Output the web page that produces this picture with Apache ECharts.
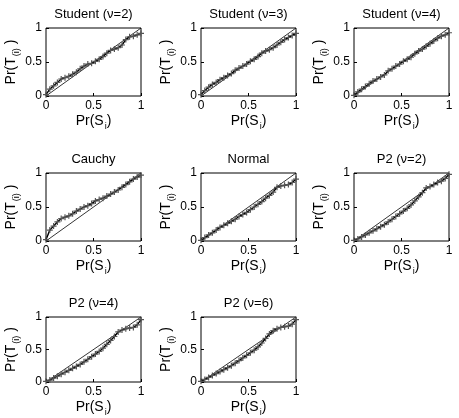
<!DOCTYPE html>
<html>
<head>
<meta charset="utf-8">
<script src="https://cdn.jsdelivr.net/npm/echarts@6/dist/echarts.min.js"></script>
<style>
  html, body { margin: 0; padding: 0; background: #fff; }
  #chart { width: 459px; height: 418px; }
</style>
</head>
<body>
<div id="chart"></div>
<script>
  // panel titles
  const titles = ['Student (ν=2)', 'Student (ν=3)', 'Student (ν=4)', 'Cauchy', 'Normal', 'P2 (ν=2)', 'P2 (ν=4)', 'P2 (ν=6)']

  // Pr(S_i) sample points shared by every panel
  const probS = [0, 0.04, 0.08, 0.12, 0.16, 0.20, 0.24, 0.28, 0.32, 0.36, 0.40, 0.44, 0.48,
    0.52, 0.56, 0.60, 0.64, 0.68, 0.72, 0.76, 0.80, 0.84, 0.88, 0.92, 0.96, 1.00]

  // Pr(T_(i))
  const studentNu2 = [0.02, 0.10, 0.15, 0.20, 0.25, 0.27, 0.29, 0.32, 0.35, 0.40, 0.44, 0.47, 0.48,
    0.51, 0.54, 0.58, 0.63, 0.67, 0.69, 0.71, 0.75, 0.83, 0.87, 0.88, 0.90, 0.92]
  const studentNu3 = [0.02, 0.08, 0.13, 0.17, 0.20, 0.24, 0.27, 0.30, 0.33, 0.38, 0.41, 0.44, 0.47,
    0.51, 0.54, 0.58, 0.63, 0.66, 0.68, 0.71, 0.75, 0.79, 0.83, 0.86, 0.89, 0.92]
  const studentNu4 = [0.01, 0.06, 0.10, 0.14, 0.18, 0.22, 0.25, 0.28, 0.31, 0.37, 0.40, 0.44, 0.47,
    0.51, 0.54, 0.57, 0.62, 0.66, 0.69, 0.73, 0.77, 0.81, 0.85, 0.88, 0.90, 0.93]
  const cauchy = [0.02, 0.16, 0.22, 0.28, 0.33, 0.35, 0.37, 0.40, 0.44, 0.47, 0.50, 0.52, 0.55,
    0.59, 0.61, 0.63, 0.66, 0.69, 0.72, 0.75, 0.79, 0.83, 0.87, 0.91, 0.94, 0.97]
  const normal = [0.01, 0.05, 0.09, 0.12, 0.16, 0.20, 0.23, 0.26, 0.29, 0.32, 0.36, 0.39, 0.42,
    0.46, 0.50, 0.54, 0.58, 0.63, 0.67, 0.72, 0.79, 0.81, 0.82, 0.83, 0.86, 0.91]
  const p2Nu2 = [0.01, 0.03, 0.06, 0.09, 0.12, 0.15, 0.18, 0.21, 0.24, 0.28, 0.32, 0.36, 0.40,
    0.44, 0.48, 0.53, 0.59, 0.65, 0.71, 0.78, 0.80, 0.83, 0.86, 0.88, 0.92, 0.98]
  const p2Nu4 = [0.01, 0.03, 0.06, 0.09, 0.12, 0.15, 0.18, 0.21, 0.24, 0.27, 0.31, 0.35, 0.39,
    0.43, 0.47, 0.52, 0.58, 0.64, 0.70, 0.77, 0.80, 0.82, 0.83, 0.84, 0.88, 0.96]
  const p2Nu6 = [0.01, 0.04, 0.07, 0.10, 0.13, 0.16, 0.19, 0.22, 0.25, 0.29, 0.33, 0.37, 0.41,
    0.45, 0.49, 0.54, 0.60, 0.67, 0.74, 0.79, 0.82, 0.84, 0.85, 0.86, 0.89, 0.96]

  const panels = [studentNu2, studentNu3, studentNu4, cauchy, normal, p2Nu2, p2Nu4, p2Nu6]

  // layout of the 3x3 grid (last cell empty)
  const colLeft = [46, 201, 354]
  const rowTop = [28, 173, 317]
  const boxW = 95
  const boxH = 68
  const font = 'Liberation Sans, Arial, sans-serif'
  const plus = 'path://M4,0h2v4h4v2h-4v4h-2v-4h-4v-2h4z'

  let grid = [], xAxis = [], yAxis = [], series = [], title = []
  panels.forEach((ys, k) => {
    const left = colLeft[k % 3]
    const top = rowTop[Math.floor(k / 3)]
    grid.push({ left: left, top: top, width: boxW, height: boxH, show: true, borderColor: '#000', borderWidth: 1 })
    title.push({
      text: titles[k], left: left + boxW / 2, top: top - 20, textAlign: 'center', padding: 0,
      textStyle: { fontFamily: font, fontSize: 13, fontWeight: 'normal', color: '#000' }
    })
    const axisCommon = {
      gridIndex: k, type: 'value', min: 0, max: 1, interval: 0.5,
      axisLine: { show: false },
      axisTick: { show: true, inside: true, length: 3, lineStyle: { color: '#000' } },
      splitLine: { show: false },
      axisLabel: { fontFamily: font, fontSize: 12, color: '#000', margin: 4 },
      nameLocation: 'middle'
    }
    xAxis.push(Object.assign({}, axisCommon, {
      name: '{a|Pr(S}{s|i}{a|)}', nameGap: 16,
      nameTextStyle: {
        rich: {
          a: { fontFamily: font, fontSize: 14, color: '#000' },
          s: { fontFamily: font, fontSize: 9, color: '#000', padding: [10, 0, 0, 1] }
        }
      }
    }))
    yAxis.push(Object.assign({}, axisCommon, {
      name: '{a|Pr(T}{s|(i)}{a| )}', nameGap: 25,
      nameTextStyle: {
        rich: {
          a: { fontFamily: font, fontSize: 14, color: '#000' },
          s: { fontFamily: font, fontSize: 9, color: '#000', padding: [10, 0, 0, 1] }
        }
      }
    }))
    series.push({
      type: 'line', xAxisIndex: k, yAxisIndex: k, data: [[0, 0], [1, 1]],
      symbol: 'none', silent: true, lineStyle: { color: '#000', width: 0.8 }
    })
    series.push({
      type: 'line', xAxisIndex: k, yAxisIndex: k,
      data: probS.map((x, i) => [x, ys[i]]),
      symbol: plus, symbolSize: 6, showAllSymbol: true,
      itemStyle: { color: '#555' },
      lineStyle: { color: '#000', width: 1.4 }
    })
  })

  const chart = echarts.init(document.getElementById('chart'))
  chart.setOption({
    backgroundColor: '#fff',
    animation: false,
    title: title,
    grid: grid,
    xAxis: xAxis,
    yAxis: yAxis,
    series: series
  })
</script>
</body>
</html>
